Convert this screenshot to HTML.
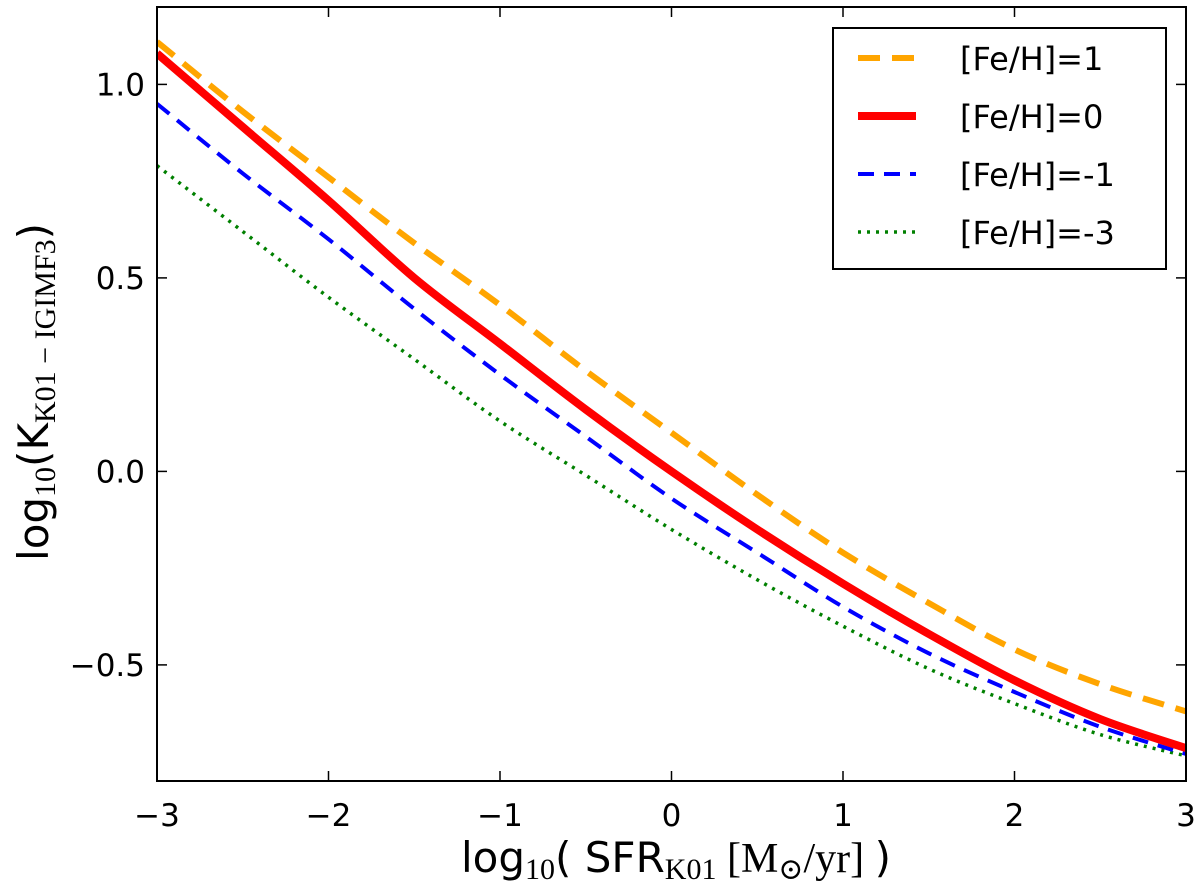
<!DOCTYPE html>
<html><head><meta charset="utf-8"><style>
body{margin:0;background:#fff;}
svg{display:block;font-family:"DejaVu Sans","Liberation Sans",sans-serif;}
</style></head><body>
<svg id="chart" width="1200" height="889" viewBox="0 0 1200 889">
<defs><clipPath id="clip"><rect x="157" y="7" width="1029" height="774"/></clipPath></defs>
<text x="676" y="872" font-size="42" text-anchor="middle">log<tspan font-size="30" dy="7" font-family="Liberation Serif">10</tspan><tspan dy="-7">( SFR</tspan><tspan font-size="30" dy="7" font-family="Liberation Serif">K01</tspan><tspan dy="-7" font-family="Liberation Serif"> [M</tspan><tspan font-size="30" dy="7" font-family="DejaVu Serif">⊙</tspan><tspan dy="-7" font-family="Liberation Serif">/yr] </tspan><tspan>)</tspan></text>
<text transform="translate(48,392) rotate(-90)" font-size="42" text-anchor="middle">log<tspan font-size="30" dy="7" font-family="Liberation Serif">10</tspan><tspan dy="-7">(K</tspan><tspan font-size="30" dy="7" font-family="Liberation Serif">K01 − IGIMF3</tspan><tspan dy="-7">)</tspan></text>
</svg>
<script>
const xs = [-3,-2.5,-2,-1.5,-1,-0.5,0,0.5,1,1.5,2,2.5,3];
const seriesFe1  = [1.11,0.93,0.76,0.59,0.43,0.26,0.10,-0.06,-0.21,-0.34,-0.46,-0.55,-0.62];
const seriesFe0  = [1.08,0.89,0.70,0.50,0.33,0.16,0.00,-0.15,-0.29,-0.42,-0.54,-0.64,-0.715];
const seriesFem1 = [0.95,0.77,0.60,0.42,0.25,0.09,-0.07,-0.21,-0.35,-0.47,-0.57,-0.66,-0.73];
const seriesFem3 = [0.79,0.62,0.45,0.29,0.13,-0.01,-0.15,-0.28,-0.40,-0.51,-0.60,-0.68,-0.735];
const xTickLabels = ["\u22123","\u22122","\u22121","0","1","2","3"];
const yTickLabels = ["1.0","0.5","0.0","\u22120.5"];
const xTickVals = [-3,-2,-1,0,1,2,3];
const yTickVals = [1.0,0.5,0.0,-0.5];
const legendLabels = ["[Fe/H]=1","[Fe/H]=0","[Fe/H]=-1","[Fe/H]=-3"];

const L=157,R=1186,T=7,B=781, xMin=-3,xMax=3,yMin=-0.8,yMax=1.2;
const sx=v=>L+(v-xMin)/(xMax-xMin)*(R-L);
const sy=v=>B-(v-yMin)/(yMax-yMin)*(B-T);
const NS="http://www.w3.org/2000/svg";
const svg=document.getElementById('chart');
function mk(tag,attrs,parent){const e=document.createElementNS(NS,tag);for(const k in attrs)e.setAttribute(k,attrs[k]);(parent||svg).appendChild(e);return e;}
function path(ys){
  const p=xs.map((x,i)=>[sx(x),sy(ys[i])]);
  let d=`M${p[0][0]},${p[0][1]}`;
  for(let i=0;i<p.length-1;i++){
    const p0=p[Math.max(0,i-1)],p1=p[i],p2=p[i+1],p3=p[Math.min(p.length-1,i+2)];
    const c1=[p1[0]+(p2[0]-p0[0])/6,p1[1]+(p2[1]-p0[1])/6];
    const c2=[p2[0]-(p3[0]-p1[0])/6,p2[1]-(p3[1]-p1[1])/6];
    d+=` C${c1[0]},${c1[1]} ${c2[0]},${c2[1]} ${p2[0]},${p2[1]}`;
  }
  return d;
}
const g=mk('g',{'clip-path':'url(#clip)'});
const styles=[
 {ys:seriesFe1,stroke:'#ffa500',w:6,dash:'22,12',name:'series-fe-plus1'},
 {ys:seriesFe0,stroke:'#ff0000',w:8,dash:'',name:'series-fe-0'},
 {ys:seriesFem1,stroke:'#0000ff',w:4,dash:'16,10',name:'series-fe-minus1'},
 {ys:seriesFem3,stroke:'#008000',w:3.5,dash:'3,6',name:'series-fe-minus3'}];
styles.slice().reverse().forEach(s=>{
  const e=mk('path',{d:path(s.ys),fill:'none',stroke:s.stroke,'stroke-width':s.w,'stroke-dasharray':s.dash},g);
  
  
});
const fr=mk('rect',{x:L,y:T,width:R-L,height:B-T,fill:'none',stroke:'#000','stroke-width':2});


xTickVals.forEach((v,i)=>{
  mk('line',{x1:sx(v),x2:sx(v),y1:B,y2:B-10,stroke:'#000','stroke-width':1.5});
  mk('line',{x1:sx(v),x2:sx(v),y1:T,y2:T+10,stroke:'#000','stroke-width':1.5});
  const t=mk('text',{x:sx(v),y:B+45,'font-size':31,'text-anchor':'middle'});
  t.textContent=xTickLabels[i];
  
  
});
yTickVals.forEach((v,i)=>{
  mk('line',{x1:L,x2:L+10,y1:sy(v),y2:sy(v),stroke:'#000','stroke-width':1.5});
  mk('line',{x1:R,x2:R-10,y1:sy(v),y2:sy(v),stroke:'#000','stroke-width':1.5});
  const t=mk('text',{x:L-12,y:sy(v)+11,'font-size':31,'text-anchor':'end'});
  t.textContent=yTickLabels[i];
  
  
});
const lg=mk('g',{});


mk('rect',{x:833,y:28,width:333,height:241,fill:'#fff',stroke:'#000','stroke-width':2},lg);
styles.forEach((s,i)=>{
  const y=58+i*58;
  const ln=mk('line',{x1:858,x2:916,y1:y,y2:y,stroke:s.stroke,'stroke-width':s.w,'stroke-dasharray':s.dash},lg);
  
  
  const t=mk('text',{x:960,y:y+12,'font-size':32},lg);
  t.textContent=legendLabels[i];
  
  
});
</script>
</body></html>
